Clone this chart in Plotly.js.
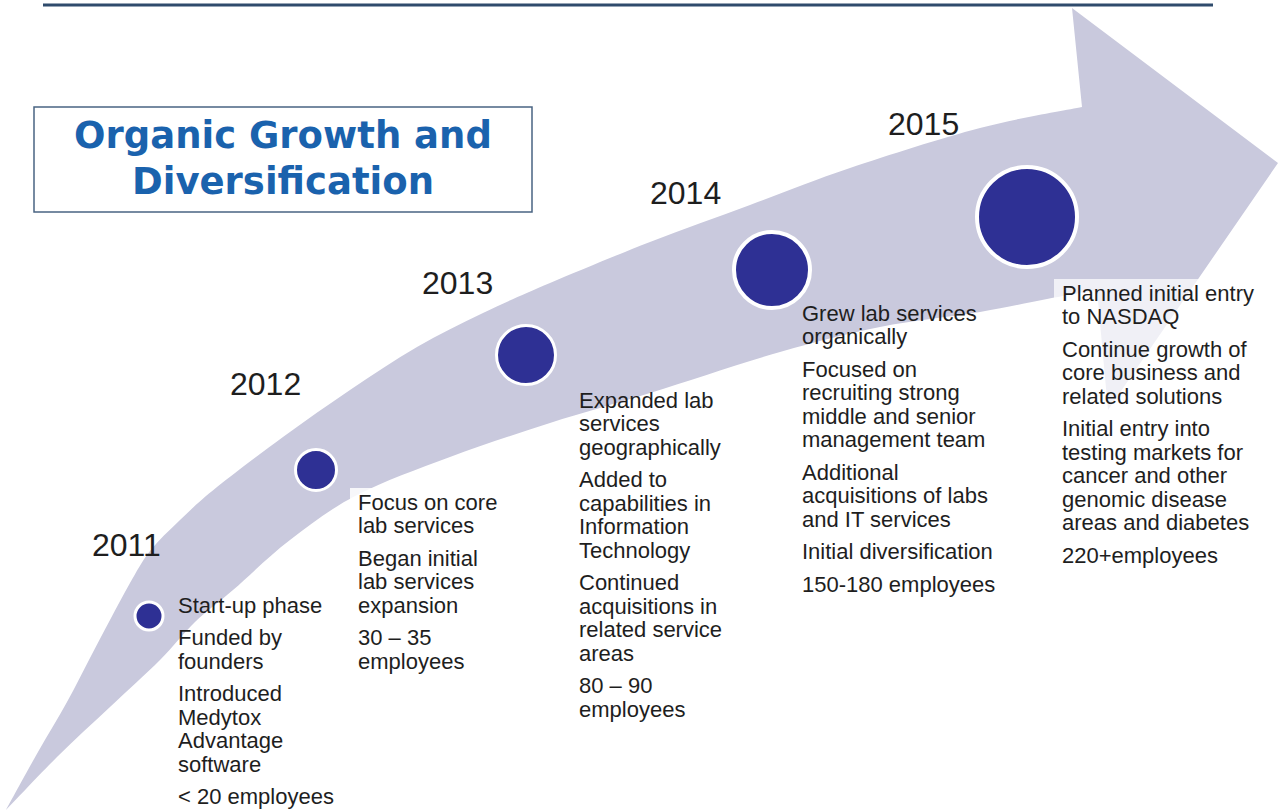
<!DOCTYPE html>
<html>
<head>
<meta charset="utf-8">
<script src="https://cdn.plot.ly/plotly-3.0.1.min.js"></script>
<style>
html,body{margin:0;padding:0;background:#fff;overflow:hidden;}
#chart{width:1281px;height:810px;}
</style>
</head>
<body>
<div id="chart"></div>
<script>
// ---------- DATA ----------
const years = ['2011', '2012', '2013', '2014', '2015'];
const titleLines = ['Organic Growth and', 'Diversification'];
const milestones2011 = [['Start-up phase'], ['Funded by', 'founders'], ['Introduced', 'Medytox', 'Advantage', 'software'], ['&lt; 20 employees']];
const milestones2012 = [['Focus on core', 'lab services'], ['Began initial', 'lab services', 'expansion'], ['30 – 35', 'employees']];
const milestones2013 = [['Expanded lab', 'services', 'geographically'], ['Added to', 'capabilities in', 'Information', 'Technology'], ['Continued', 'acquisitions in', 'related service', 'areas'], ['80 – 90', 'employees']];
const milestones2014 = [['Grew lab services', 'organically'], ['Focused on', 'recruiting strong', 'middle and senior', 'management team'], ['Additional', 'acquisitions of labs', 'and IT services'], ['Initial diversification'], ['150-180 employees']];
const milestones2015 = [['Planned initial entry', 'to NASDAQ'], ['Continue growth of', 'core business and', 'related solutions'], ['Initial entry into', 'testing markets for', 'cancer and other', 'genomic disease', 'areas and diabetes'], ['220+employees']];
const milestones = [milestones2011, milestones2012, milestones2013, milestones2014, milestones2015];

// ---------- LAYOUT (pixel geometry of the infographic) ----------
const W = 1281, H = 810;
const nodeX = [149, 316, 526, 772, 1027];
const nodeY = [616, 470, 355, 270, 217];
const nodeInnerR = [12.5, 19, 28, 36, 48];
const nodeBorder = [3, 3, 3, 4, 4];
const yearX = [126, 265, 457, 685, 923];
const yearY = [545, 384, 283, 193, 124];
const blockX = [177, 357, 578, 801, 1061];
const blockY = [605, 502, 400, 313, 293];
const lineStep = 23.5, paraStep = 32.5;

const upperEdge = [[6,810],[38,752],[67,702],[90,658],[110,620],[130,583],[150,551],[180,520],[217,487],[283,437],[350,390],[417,347],[483,313],[550,283],[650,242],[750,205],[850,168],[980,128],[1082,107]];
const headPts = [[1072,8],[1278,163],[1108,410],[1097,290]];
const lowerEdge = [[1097,290],[1047,299],[980,312],[880,327],[780,352],[650,393],[550,423],[450,457],[357,495],[290,540],[233,590],[195,622],[160,660],[110,707],[57,757],[6,810]];

function smoothPath(pts, start) {
  let d = start ? 'M' + pts[0][0] + ',' + pts[0][1] : '';
  for (let i = 0; i < pts.length - 1; i++) {
    const p0 = pts[Math.max(i - 1, 0)], p1 = pts[i], p2 = pts[i + 1], p3 = pts[Math.min(i + 2, pts.length - 1)];
    const c1 = [p1[0] + (p2[0] - p0[0]) / 6, p1[1] + (p2[1] - p0[1]) / 6];
    const c2 = [p2[0] - (p3[0] - p1[0]) / 6, p2[1] - (p3[1] - p1[1]) / 6];
    d += ' C' + c1[0].toFixed(1) + ',' + c1[1].toFixed(1) + ' ' + c2[0].toFixed(1) + ',' + c2[1].toFixed(1) + ' ' + p2[0] + ',' + p2[1];
  }
  return d;
}
let arrowPath = smoothPath(upperEdge, true);
headPts.forEach(p => { arrowPath += ' L' + p[0] + ',' + p[1]; });
arrowPath += smoothPath(lowerEdge, false) + ' Z';

const shapes = [
  {type: 'line', xref: 'x', yref: 'y', x0: 43, x1: 1213, y0: 5, y1: 5, line: {color: '#2f4b6c', width: 3}, layer: 'below'},
  {type: 'path', xref: 'x', yref: 'y', path: arrowPath, fillcolor: '#c9c9dd', line: {width: 0}, layer: 'below'},
  {type: 'rect', xref: 'x', yref: 'y', x0: 350, x1: 505, y0: 488, y1: 676, fillcolor: 'rgba(255,255,255,0.85)', line: {width: 0}, layer: 'below'},
  {type: 'rect', xref: 'x', yref: 'y', x0: 1054, x1: 1262, y0: 279, y1: 572, fillcolor: 'rgba(255,255,255,0.72)', line: {width: 0}, layer: 'below'},
  {type: 'rect', xref: 'x', yref: 'y', x0: 34, x1: 532, y0: 107, y1: 212, fillcolor: '#ffffff', line: {color: '#4a6482', width: 1.5}, layer: 'below'}
];

const annotations = [];
titleLines.forEach((t, i) => {
  annotations.push({x: 283, y: 135 + i * 46, xref: 'x', yref: 'y', text: t, showarrow: false,
    xanchor: 'center', yanchor: 'middle', font: {family: 'DejaVu Sans', size: 37, color: '#1a62ad', weight: 'bold'}});
});
years.forEach((yr, i) => {
  annotations.push({x: yearX[i], y: yearY[i], xref: 'x', yref: 'y', text: yr, showarrow: false,
    xanchor: 'center', yanchor: 'middle', font: {family: 'Liberation Sans, Arial, sans-serif', size: 32, color: '#1e1e1e'}});
});
milestones.forEach((block, b) => {
  let y = blockY[b];
  block.forEach((para, p) => {
    if (p > 0) y += paraStep - lineStep;
    para.forEach((line, l) => {
      if (p > 0 || l > 0) y += lineStep;
      annotations.push({x: blockX[b], y: y, xref: 'x', yref: 'y', text: line, showarrow: false,
        xanchor: 'left', yanchor: 'middle', borderpad: 0,
        font: {family: 'Liberation Sans, Arial, sans-serif', size: 22, color: '#1e1e1e'}});
    });
  });
});

const trace = {
  type: 'scatter', mode: 'markers', x: nodeX, y: nodeY, text: years, hoverinfo: 'text',
  marker: {
    size: nodeInnerR.map((r, i) => 2 * r + nodeBorder[i]),
    color: '#2e3094',
    opacity: 1,
    line: {color: '#ffffff', width: nodeBorder}
  }
};

const layout = {
  width: W, height: H,
  margin: {l: 0, r: 0, t: 0, b: 0, pad: 0},
  paper_bgcolor: '#ffffff', plot_bgcolor: '#ffffff',
  showlegend: false,
  xaxis: {range: [0, W], visible: false, fixedrange: true},
  yaxis: {range: [H, 0], visible: false, fixedrange: true},
  shapes: shapes,
  annotations: annotations
};

Plotly.newPlot('chart', [trace], layout, {staticPlot: true, displayModeBar: false});
</script>
</body>
</html>
